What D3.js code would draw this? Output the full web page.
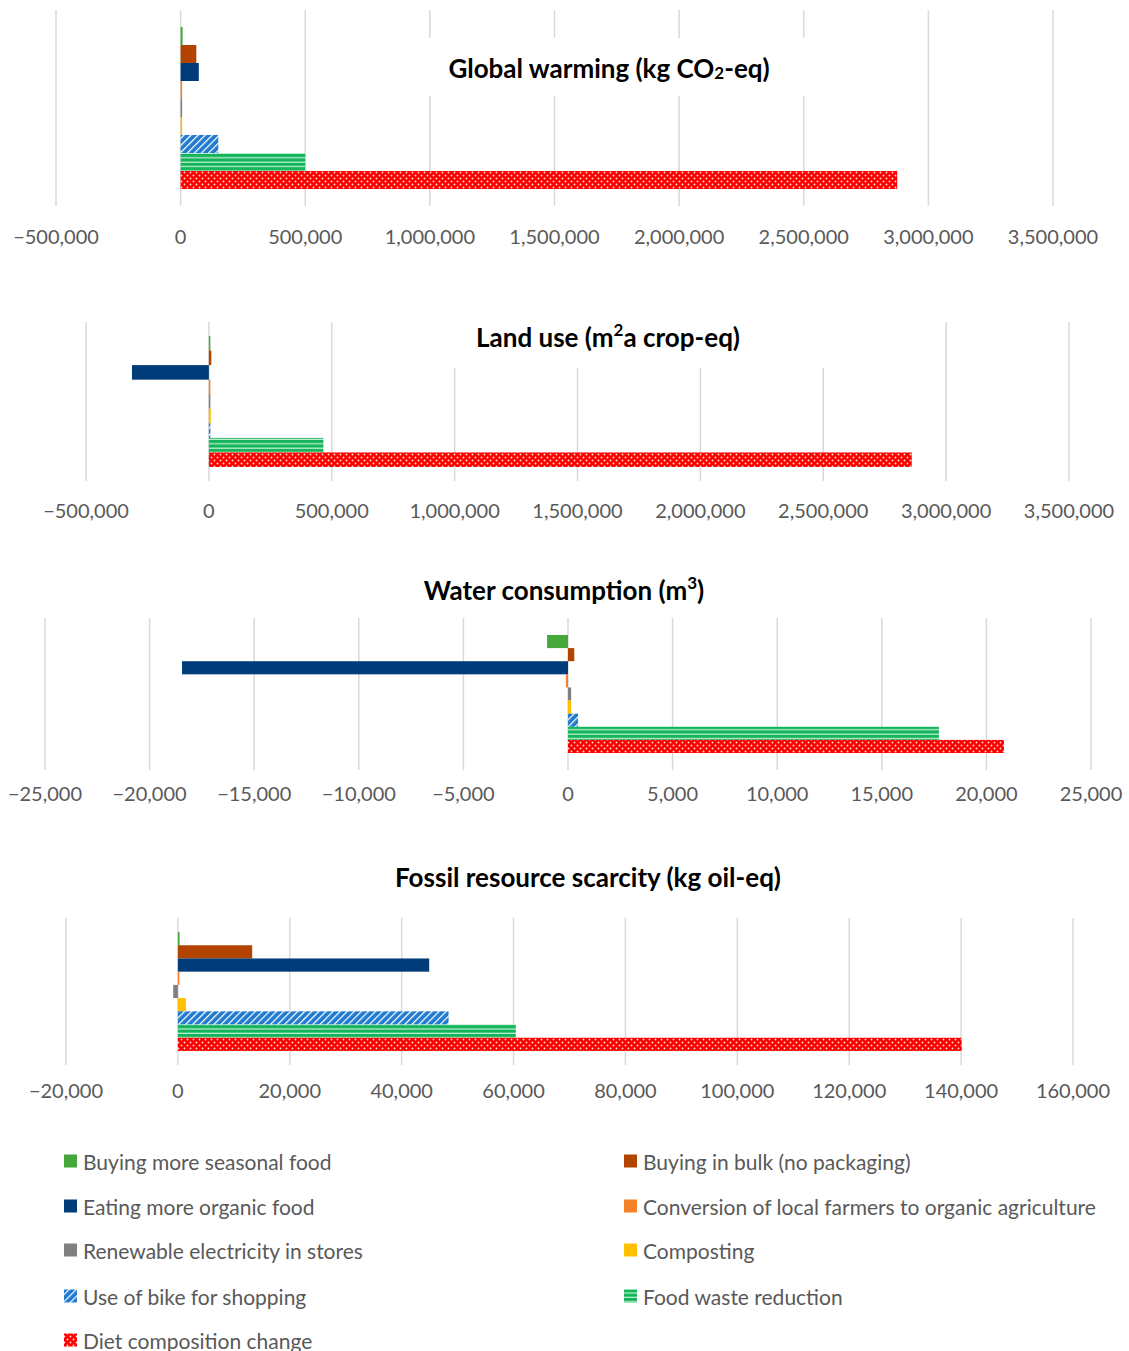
<!DOCTYPE html>
<html><head><meta charset="utf-8">
<script src="https://cdn.jsdelivr.net/npm/d3@7"></script>
<style>
body{margin:0;background:#fff}
svg{display:block}
text{font-family:Lato,"Open Sans",sans-serif}
</style>
</head><body>
<svg id="chart" width="1129" height="1351"></svg>
<script>
// ---------- DATA ----------
const series = [
  "Buying more seasonal food",
  "Buying in bulk (no packaging)",
  "Eating more organic food",
  "Conversion of local farmers to organic agriculture",
  "Renewable electricity in stores",
  "Composting",
  "Use of bike for shopping",
  "Food waste reduction",
  "Diet composition change"
];
const globalWarmingValues = [8000, 63000, 73000, 4000, 3000, 6000, 151000, 500000, 2875000];
const landUseValues       = [6000, 10000, -313000, 4000, 3000, 8000, 6000, 466000, 2860000];
const waterValues         = [-1000, 300, -18450, -100, 150, 150, 480, 17730, 20840];
const fossilValues        = [300, 13280, 44920, 200, -840, 1430, 48380, 60400, 140100];

const globalWarmingTicks = [-500000, 0, 500000, 1000000, 1500000, 2000000, 2500000, 3000000, 3500000];
const landUseTicks       = [-500000, 0, 500000, 1000000, 1500000, 2000000, 2500000, 3000000, 3500000];
const waterTicks         = [-25000, -20000, -15000, -10000, -5000, 0, 5000, 10000, 15000, 20000, 25000];
const fossilTicks        = [-20000, 0, 20000, 40000, 60000, 80000, 100000, 120000, 140000, 160000];

// ---------- STYLES ----------
const fills = [
  "#44a93a", "#b24400", "#003b7a", "#f5822a", "#808080", "#ffc000",
  "url(#pBike)", "url(#pWaste)", "url(#pDiet)"
];

// ---------- LAYOUT ----------
const panels = [
  {values: globalWarmingValues, ticks: globalWarmingTicks,
   title: [["Global warming (kg CO"], ["2", "sub"], ["-eq)"]],
   xr: [56, 1053], top: 10, bottom: 206, pad: 0.105, labelY: 236, tx: 609, ty: 68,
   mask: [420, 38, 815, 96]},
  {values: landUseValues, ticks: landUseTicks,
   title: [["Land use (m"], ["2", "sup"], ["a crop-eq)"]],
   xr: [86, 1069], top: 322, bottom: 481, pad: 0.107, labelY: 510, tx: 608, ty: 337,
   mask: [440, 318, 835, 368]},
  {values: waterValues, ticks: waterTicks,
   title: [["Water consumption (m"], ["3", "sup"], [")"]],
   xr: [45, 1091], top: 618, bottom: 770, pad: 0.144, labelY: 793, tx: 564, ty: 590,
   mask: null},
  {values: fossilValues, ticks: fossilTicks,
   title: [["Fossil resource scarcity (kg oil-eq)"]],
   xr: [66, 1073], top: 918, bottom: 1065, pad: 0.118, labelY: 1090, tx: 588, ty: 877,
   mask: null}
];

const svg = d3.select("#chart");
const defs = svg.append("defs");

// bike: blue with white diagonal hatch
const pb = defs.append("pattern").attr("id", "pBike").attr("patternUnits", "userSpaceOnUse")
  .attr("width", 5).attr("height", 5).attr("patternTransform", "rotate(45)");
pb.append("rect").attr("width", 5).attr("height", 5).attr("fill", "#1f7ad0");
pb.append("line").attr("x1", 0.6).attr("x2", 0.6).attr("y1", 0).attr("y2", 5)
  .attr("stroke", "#ffffff").attr("stroke-width", 1.3);
// food waste: green with white horizontal stripes
const pw = defs.append("pattern").attr("id", "pWaste").attr("patternUnits", "userSpaceOnUse")
  .attr("width", 8).attr("height", 4.4);
pw.append("rect").attr("width", 8).attr("height", 4.4).attr("fill", "#12b55a");
pw.append("rect").attr("y", 3.2).attr("width", 8).attr("height", 1.1).attr("fill", "#d8f5e2");
// diet: red with white dots
const pd = defs.append("pattern").attr("id", "pDiet").attr("patternUnits", "userSpaceOnUse")
  .attr("width", 6).attr("height", 6);
pd.append("rect").attr("width", 6).attr("height", 6).attr("fill", "#ff0000");
pd.append("circle").attr("cx", 1.5).attr("cy", 1.5).attr("r", 0.9).attr("fill", "#ffe0e0");
pd.append("circle").attr("cx", 4.5).attr("cy", 4.5).attr("r", 0.9).attr("fill", "#ffe0e0");

panels.forEach(p => {
  const g = svg.append("g");
  const x = d3.scaleLinear().domain([p.ticks[0], p.ticks[p.ticks.length - 1]]).range(p.xr);
  const yCat = d3.scaleBand().domain(["c"]).range([p.top, p.bottom]).paddingOuter(p.pad).paddingInner(0);
  const y = d3.scaleBand().domain(series).range([yCat("c"), yCat("c") + yCat.bandwidth()]).padding(0);

  // gridlines
  g.append("g").selectAll("line").data(p.ticks).join("line")
    .attr("x1", d => x(d)).attr("x2", d => x(d))
    .attr("y1", p.top).attr("y2", p.bottom)
    .attr("stroke", "#d9d9d9").attr("stroke-width", 1.5);

  // bars
  g.append("g").selectAll("rect").data(series).join("rect")
    .attr("x", (d, i) => x(Math.min(0, p.values[i])))
    .attr("width", (d, i) => Math.max(1.5, Math.abs(x(p.values[i]) - x(0))))
    .attr("y", d => y(d))
    .attr("height", y.bandwidth())
    .attr("fill", (d, i) => fills[i]);

  // axis tick labels
  const fmt = d3.format(",");
  g.append("g").selectAll("text").data(p.ticks).join("text")
    .attr("x", d => x(d)).attr("y", p.labelY)
    .attr("text-anchor", "middle").attr("dominant-baseline", "central")
    .attr("font-size", 20).attr("fill", "#595959")
    .text(d => fmt(d));

  // title mask
  if (p.mask) {
    g.append("rect").attr("x", p.mask[0]).attr("y", p.mask[1])
      .attr("width", p.mask[2] - p.mask[0]).attr("height", p.mask[3] - p.mask[1])
      .attr("fill", "#fff");
  }
  // title
  const t = g.append("text").attr("x", p.tx).attr("y", p.ty)
    .attr("text-anchor", "middle").attr("dominant-baseline", "central")
    .attr("font-size", 26).attr("font-weight", "bold").attr("fill", "#000");
  p.title.forEach(part => {
    const ts = t.append("tspan").text(part[0]);
    if (part[1] === "sub") ts.attr("font-size", 17).attr("baseline-shift", "-25%");
    if (part[1] === "sup") ts.attr("font-size", 17).attr("baseline-shift", "45%");
  });
});

// legend
const legendRows = [1161, 1206, 1250, 1296, 1340];
const legendCols = [64, 624];
const lg = svg.append("g");
series.forEach((s, i) => {
  const cx = legendCols[i % 2], cy = legendRows[Math.floor(i / 2)];
  lg.append("rect").attr("x", cx).attr("y", cy - 6.5).attr("width", 13).attr("height", 13).attr("fill", fills[i]);
  lg.append("text").attr("x", cx + 19).attr("y", cy).attr("dominant-baseline", "central")
    .attr("font-size", 21).attr("fill", "#595959").text(s);
});
</script>
</body></html>
